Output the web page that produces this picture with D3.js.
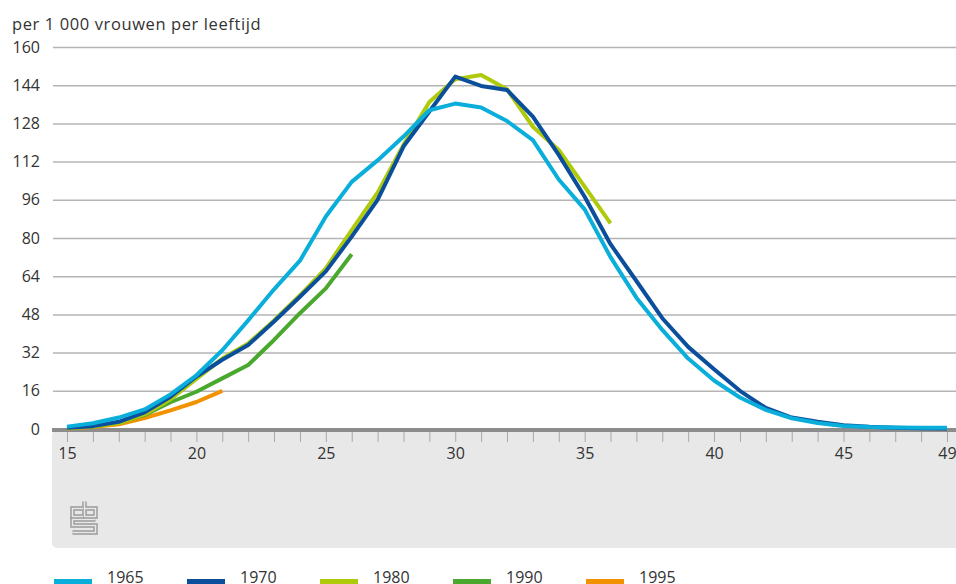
<!DOCTYPE html>
<html lang="nl">
<head>
	<meta charset="UTF-8">
	<title>Vruchtbaarheid naar leeftijd</title>
	<script src="https://cdn.jsdelivr.net/npm/d3@7"></script>
	<style>
		html,body{
			margin:0;
			padding:0;
			background:#fff;
		}
		svg{
			display:block;
			font-family:"Open Sans","Noto Sans",sans-serif;
		}
	</style>
</head>
<body>
	<svg id="svg" width="956" height="584"></svg>
	<script>
		// leeftijden 15 t/m 49
		var ages = [15,16,17,18,19,20,21,22,23,24,25,26,27,28,29,30,31,32,33,34,35,36,37,38,39,40,41,42,43,44,45,46,47,48,49];
		var yTicks = [0,16,32,48,64,80,96,112,128,144,160];
		var xTickLabels = [15,20,25,30,35,40,45,49];

		// geboorten per 1 000 vrouwen, vanaf leeftijd 15
		var r1965 = [1,2.4,4.8,8.2,14.5,22.5,33,45.5,58.5,70.5,89,103.5,112.5,122.5,133.5,136.3,134.7,129,121,104.5,92,72,55,41.5,29.5,20.3,13.2,8,4.5,2.5,1.3,0.8,0.6,0.5,0.5];
		var r1970 = [0.5,1.2,3,7,13.5,22,29,35.2,45,55.4,66,80.6,96,118.3,133,147.6,143.7,142,130.8,114.8,97.3,77.4,62,46.4,34.4,25,16,8.8,4.8,3,1.6,0.9,0.5,0.3,0.2];
		var r1980 = [0.3,1,2.5,6.2,12.5,21,29.5,35.8,45.5,56,67.3,83.3,99,119,137,146.5,148.3,142.3,126.6,116.9,101.5,86.1];
		var r1990 = [0.4,1,2.6,5.9,11.2,15.6,21.2,26.8,37.3,48.5,58.9,73.2];
		var r1995 = [0.2,0.8,2,4.6,7.8,11.3,16];

		var seriesNames = ["1965","1970","1980","1990","1995"];
		var seriesValues = [r1965,r1970,r1980,r1990,r1995];
		var colors = ["#0aaedb","#0b4f9c","#afca0b","#4aa82e","#f39200"];

		var svg = d3.select("#svg"),
			w = 956;

		var xScale = d3.scaleLinear().domain([15,49]).range([67,947]);
		var yScale = d3.scaleLinear().domain([0,160]).range([429,47]);

		// grijs vlak onder de as
		svg.append("rect")
			.attr("x",52).attr("y",430)
			.attr("width",w+20).attr("height",118)
			.attr("rx",5)
			.attr("fill","#e8e8e8");

		// titel
		svg.append("text")
			.attr("x",12).attr("y",30)
			.attr("font-size",16.5)
			.attr("letter-spacing",0.6)
			.attr("fill","#333")
			.text("per 1 000 vrouwen per leeftijd");

		// rasterlijnen + y-labels
		var yAxis = svg.append("g")
			.attr("transform","translate(53,0)")
			.call(d3.axisLeft(yScale).tickValues(yTicks).tickSize(-(w-53)).tickPadding(13));
		yAxis.select(".domain").remove();
		yAxis.selectAll(".tick line").attr("stroke","#b4b4b4").attr("stroke-width",1.5);
		yAxis.selectAll(".tick text")
			.attr("font-size",16).attr("fill","#333")
			.attr("font-family","'Open Sans','Noto Sans',sans-serif");

		// x-as
		var xAxis = svg.append("g")
			.attr("transform","translate(0,431)")
			.call(d3.axisBottom(xScale).tickValues(ages).tickSize(11).tickPadding(6)
				.tickFormat(function(d){ return xTickLabels.indexOf(d) >= 0 ? d : ""; }));
		xAxis.select(".domain").remove();
		xAxis.selectAll(".tick line").attr("stroke","#a8a8a8");
		xAxis.selectAll(".tick text")
			.attr("font-size",16).attr("fill","#333")
			.attr("font-family","'Open Sans','Noto Sans',sans-serif");

		svg.append("line")
			.attr("x1",52).attr("x2",w)
			.attr("y1",yScale(0)+1).attr("y2",yScale(0)+1)
			.attr("stroke","#8c8c8c").attr("stroke-width",4);

		// lijnen
		var line = d3.line()
			.x(function(d,i){ return xScale(ages[i]); })
			.y(function(d){ return yScale(d); });

		var order = [4,3,2,1,0];
		svg.append("g").selectAll("path")
			.data(order)
			.enter().append("path")
			.attr("d",function(k){ return line(seriesValues[k]); })
			.attr("fill","none")
			.attr("stroke",function(k){ return colors[k]; })
			.attr("stroke-width",4)
			.attr("stroke-linejoin","round");

		// cbs logo
		var logo = svg.append("g").attr("transform","translate(71,501)");
		var logoPaths = [
			"M12,7.5H1.5V15.5H12",
			"M13.5,0.5V15.5H24.5V7.5H13.5",
			"M24.5,18.5H1.5V24.5H24.5V31.5H1.5"
		];
		logo.selectAll("path.o").data(logoPaths).enter().append("path")
			.attr("d",function(d){ return d; })
			.attr("fill","none").attr("stroke","#9a9a9a").attr("stroke-width",4.5);
		logo.selectAll("path.i").data(logoPaths).enter().append("path")
			.attr("d",function(d){ return d; })
			.attr("fill","none").attr("stroke","#e8e8e8").attr("stroke-width",1.6);

		// legenda
		var legend = svg.append("g").selectAll("g")
			.data(seriesNames)
			.enter().append("g")
			.attr("transform",function(d,i){ return "translate("+(54+i*133)+",0)"; });
		legend.append("rect")
			.attr("x",0).attr("y",579)
			.attr("width",38).attr("height",5)
			.attr("fill",function(d,i){ return colors[i]; });
		legend.append("text")
			.attr("x",53).attr("y",583)
			.attr("font-size",16).attr("fill","#333")
			.text(function(d){ return d; });
	</script>
</body>
</html>
